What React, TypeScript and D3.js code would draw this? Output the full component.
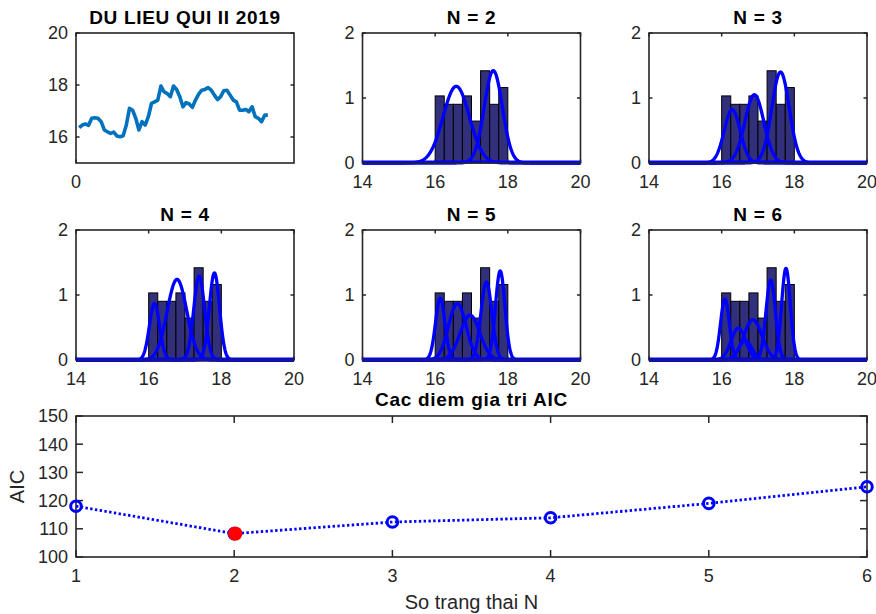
import React from "react";
import * as d3 from "d3";

// ---------- data ----------
const seriesTitle = "DU LIEU QUI II 2019";
const seriesValues = [
  16.36, 16.46, 16.5, 16.45, 16.72, 16.74, 16.72, 16.59, 16.27, 16.2, 16.14, 16.19,
  16.04, 16.01, 16.05, 16.46, 17.1, 17.03, 16.72, 16.27, 16.59, 16.46, 16.78, 17.29,
  17.35, 17.42, 17.96, 17.74, 17.67, 17.55, 17.96, 17.83, 17.55, 17.16, 17.32, 17.27,
  17.14, 17.42, 17.65, 17.8, 17.83, 17.9, 17.8, 17.61, 17.44, 17.55, 17.78, 17.8,
  17.61, 17.42, 17.35, 17.03, 17.03, 17.06, 16.97, 17.16, 16.78, 16.72, 16.59, 16.84,
  16.84,
];
const seriesYTicks = [16, 18, 20];
const seriesXTicks = [0];

const binEdges = [16, 16.25, 16.5, 16.75, 17, 17.25, 17.5, 17.75, 18];
const binHeights = [1.032, 0.903, 0.903, 1.032, 0.645, 1.419, 0.903, 1.161];
const histXTicks = [14, 16, 18, 20];
const histYTicks = [0, 1, 2];

// components per model: [mean, sigma, peak]
const modelN = [2, 3, 4, 5, 6];
const comps2 = [[16.58, 0.36, 1.18], [17.6, 0.25, 1.42]];
const comps3 = [[16.29, 0.22, 0.82], [16.9, 0.26, 1.05], [17.62, 0.24, 1.4]];
const comps4 = [[16.16, 0.14, 0.87], [16.78, 0.27, 1.24], [17.39, 0.15, 1.29], [17.81, 0.14, 1.34]];
const comps5 = [[16.14, 0.13, 0.95], [16.61, 0.24, 0.87], [16.96, 0.27, 0.69], [17.41, 0.15, 1.2], [17.79, 0.13, 1.37]];
const comps6 = [[16.09, 0.12, 0.94], [16.46, 0.2, 0.49], [16.65, 0.18, 0.3], [16.86, 0.25, 0.62], [17.35, 0.13, 1.23], [17.77, 0.12, 1.41]];
const allComps = [comps2, comps3, comps4, comps5, comps6];

const aicN = [1, 2, 3, 4, 5, 6];
const aicValues = [118.0, 108.3, 112.4, 113.9, 119.0, 124.9];
const aicBestIndex = 1;
const aicYTicks = [100, 110, 120, 130, 140, 150];
const aicTitle = "Cac diem gia tri AIC";
const aicXLabel = "So trang thai N";
const aicYLabel = "AIC";

// ---------- style ----------
const FONT = "'Liberation Sans', Arial, Helvetica, sans-serif";
const AX = "#262626";
const TICK_FS = 18;
const TITLE_FS = 19;
const COL_LEFTS = [76, 362.5, 649];
const ROW_TOPS = [33, 230];
const PW = 218;
const PH = 130;

function Box({ x, y, w, h }) {
  return <rect x={x} y={y} width={w} height={h} fill="none" stroke={AX} strokeWidth={1.6} />;
}

function Title({ x, y, text }) {
  return (
    <text x={x} y={y} textAnchor="middle" fontFamily={FONT} fontWeight="bold" fontSize={TITLE_FS} letterSpacing={0.7} fill="#000">
      {text}
    </text>
  );
}

function Axes({ left, top, w, h, xs, ys, xTicks, yTicks, tl }) {
  const bottom = top + h;
  const right = left + w;
  return (
    <g>
      <Box x={left} y={top} w={w} h={h} />
      {xTicks.map((t) => (
        <g key={"x" + t}>
          <line x1={xs(t)} x2={xs(t)} y1={bottom} y2={bottom - tl} stroke={AX} strokeWidth={1.5} />
          <line x1={xs(t)} x2={xs(t)} y1={top} y2={top + tl} stroke={AX} strokeWidth={1.5} />
          <text x={xs(t)} y={bottom + 25} textAnchor="middle" fontFamily={FONT} fontSize={TICK_FS} fill={AX}>
            {t}
          </text>
        </g>
      ))}
      {yTicks.map((t) => (
        <g key={"y" + t}>
          <line x1={left} x2={left + tl} y1={ys(t)} y2={ys(t)} stroke={AX} strokeWidth={1.5} />
          <line x1={right} x2={right - tl} y1={ys(t)} y2={ys(t)} stroke={AX} strokeWidth={1.5} />
          <text x={left - 8} y={ys(t)} dy="0.36em" textAnchor="end" fontFamily={FONT} fontSize={TICK_FS} fill={AX}>
            {t}
          </text>
        </g>
      ))}
    </g>
  );
}

function SeriesPanel() {
  const left = COL_LEFTS[0];
  const top = ROW_TOPS[0];
  const n = seriesValues.length;
  const xs = d3.scaleLinear().domain([0, n / 0.88]).range([left, left + PW]);
  const ys = d3.scaleLinear().domain([15, 20]).range([top + PH, top]);
  const line = d3
    .line<number>()
    .x((_, i) => xs(i + 1))
    .y((v) => ys(v))
    .curve(d3.curveLinear);
  return (
    <g>
      <path d={line(seriesValues) || ""} fill="none" stroke="#0072BD" strokeWidth={3.6} strokeLinejoin="round" />
      <Axes left={left} top={top} w={PW} h={PH} xs={xs} ys={ys} xTicks={seriesXTicks} yTicks={seriesYTicks} tl={3.5} />
      <Title x={left + PW / 2} y={top - 9} text={seriesTitle} />
    </g>
  );
}

function HistPanel({ left, top, comps, n }) {
  const xs = d3.scaleLinear().domain([14, 20]).range([left, left + PW]);
  const ys = d3.scaleLinear().domain([0, 2]).range([top + PH, top]);
  const grid = d3.range(14, 20.0001, 0.01);
  const line = d3
    .line<number[]>()
    .x((d) => xs(d[0]))
    .y((d) => ys(d[1]));
  return (
    <g>
      {binHeights.map((h, i) => (
        <rect
          key={i}
          x={xs(binEdges[i])}
          y={ys(h)}
          width={xs(binEdges[i + 1]) - xs(binEdges[i])}
          height={ys(0) - ys(h)}
          fill="#32307A"
          stroke="#000"
          strokeWidth={1}
        />
      ))}
      {comps.map((c, i) => {
        const [mu, s, a] = c;
        const pts = grid.map((x) => [x, a * Math.exp(-((x - mu) * (x - mu)) / (2 * s * s))]);
        return <path key={i} d={line(pts) || ""} fill="none" stroke="#0000FF" strokeWidth={3.3} strokeLinejoin="round" />;
      })}
      <Axes left={left} top={top} w={PW} h={PH} xs={xs} ys={ys} xTicks={histXTicks} yTicks={histYTicks} tl={3.5} />
      <line x1={left} x2={left + PW} y1={top + PH - 1.6} y2={top + PH - 1.6} stroke="#0000FF" strokeWidth={1.6} />
      <Title x={left + PW / 2} y={top - 9} text={`N = ${n}`} />
    </g>
  );
}

function AicPanel() {
  const left = 76, right = 867, top = 416, bottom = 557;
  const xs = d3.scaleLinear().domain([1, 6]).range([left, right]);
  const ys = d3.scaleLinear().domain([100, 150]).range([bottom, top]);
  const line = d3
    .line<number>()
    .x((_, i) => xs(aicN[i]))
    .y((v) => ys(v));
  return (
    <g>
      <Axes left={left} top={top} w={right - left} h={bottom - top} xs={xs} ys={ys} xTicks={aicN} yTicks={aicYTicks} tl={7} />
      <path d={line(aicValues) || ""} fill="none" stroke="#0000FF" strokeWidth={2.8} strokeDasharray="2.4 2.4" />
      {aicValues.map((v, i) => (
        <circle key={i} cx={xs(aicN[i])} cy={ys(v)} r={5.3} fill="none" stroke="#0000FF" strokeWidth={3} />
      ))}
      <circle cx={xs(aicN[aicBestIndex]) + 1} cy={ys(aicValues[aicBestIndex])} r={7.2} fill="#FF0000" />
      <Title x={(left + right) / 2} y={top - 10} text={aicTitle} />
      <text x={(left + right) / 2} y={609} textAnchor="middle" fontFamily={FONT} fontSize={20} fill={AX}>
        {aicXLabel}
      </text>
      <text
        transform={`translate(24, ${(top + bottom) / 2}) rotate(-90)`}
        textAnchor="middle"
        fontFamily={FONT}
        fontSize={20}
        fill={AX}
      >
        {aicYLabel}
      </text>
    </g>
  );
}

export default function App() {
  const positions = [
    [COL_LEFTS[1], ROW_TOPS[0]],
    [COL_LEFTS[2], ROW_TOPS[0]],
    [COL_LEFTS[0], ROW_TOPS[1]],
    [COL_LEFTS[1], ROW_TOPS[1]],
    [COL_LEFTS[2], ROW_TOPS[1]],
  ];
  return (
    <svg
      width={876}
      height={614}
      viewBox="0 0 876 614"
      style={{ position: "absolute", left: 0, top: 0, background: "#fff" }}
    >
      <rect width={876} height={614} fill="#fff" />
      <SeriesPanel />
      {modelN.map((n, i) => (
        <HistPanel key={n} left={positions[i][0]} top={positions[i][1]} comps={allComps[i]} n={n} />
      ))}
      <AicPanel />
    </svg>
  );
}
